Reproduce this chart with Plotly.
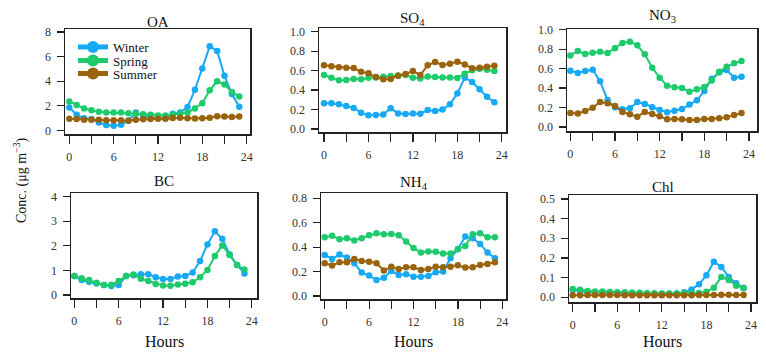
import plotly.graph_objects as go
from plotly.subplots import make_subplots

hours = list(range(24))

oa_winter = [1.86, 1.26, 0.98, 0.93, 0.63, 0.44, 0.38, 0.46, 0.79, 1.45, 1.15, 1.04,
             0.98, 0.98, 1.34, 1.45, 1.89, 3.30, 5.03, 6.83, 6.45, 4.43, 2.95, 1.91]
oa_spring = [2.35, 2.05, 1.78, 1.64, 1.50, 1.45, 1.45, 1.45, 1.39, 1.34, 1.31, 1.26,
             1.20, 1.20, 1.26, 1.34, 1.45, 1.78, 2.21, 3.25, 3.99, 3.72, 3.11, 2.76]
oa_summer = [0.95, 0.92, 0.85, 0.85, 0.85, 0.82, 0.82, 0.82, 0.78, 0.85, 0.90, 0.92,
             0.95, 0.95, 1.00, 1.02, 0.98, 0.97, 0.98, 1.02, 1.15, 1.12, 1.08, 1.12]

so4_winter = [0.264, 0.264, 0.253, 0.236, 0.216, 0.168, 0.140, 0.144, 0.150, 0.212, 0.160, 0.154,
              0.160, 0.157, 0.195, 0.185, 0.200, 0.253, 0.366, 0.527, 0.483, 0.408, 0.332, 0.274]
so4_spring = [0.555, 0.527, 0.500, 0.503, 0.514, 0.510, 0.527, 0.530, 0.537, 0.544, 0.551, 0.555,
              0.527, 0.520, 0.540, 0.534, 0.530, 0.530, 0.524, 0.568, 0.603, 0.620, 0.610, 0.596]
so4_summer = [0.654, 0.644, 0.634, 0.630, 0.627, 0.589, 0.572, 0.534, 0.510, 0.514, 0.548, 0.565,
              0.596, 0.555, 0.654, 0.688, 0.658, 0.671, 0.692, 0.664, 0.623, 0.630, 0.640, 0.650]

no3_winter = [0.579, 0.555, 0.575, 0.589, 0.469, 0.277, 0.202, 0.182, 0.192, 0.257, 0.236, 0.202,
              0.175, 0.151, 0.168, 0.185, 0.230, 0.274, 0.370, 0.497, 0.560, 0.586, 0.507, 0.517]
no3_spring = [0.736, 0.780, 0.750, 0.763, 0.774, 0.760, 0.808, 0.863, 0.877, 0.839, 0.747, 0.610,
              0.507, 0.425, 0.408, 0.400, 0.363, 0.387, 0.410, 0.479, 0.568, 0.620, 0.654, 0.678]
no3_summer = [0.144, 0.140, 0.164, 0.199, 0.257, 0.243, 0.216, 0.154, 0.130, 0.106, 0.154, 0.134,
              0.110, 0.079, 0.082, 0.079, 0.072, 0.072, 0.082, 0.082, 0.089, 0.099, 0.123, 0.144]

bc_winter = [0.77, 0.61, 0.54, 0.47, 0.41, 0.37, 0.41, 0.77, 0.81, 0.85, 0.85, 0.72,
             0.65, 0.65, 0.75, 0.77, 0.92, 1.38, 2.06, 2.59, 2.29, 1.65, 1.22, 0.88]
bc_spring = [0.77, 0.68, 0.61, 0.50, 0.41, 0.42, 0.57, 0.77, 0.84, 0.66, 0.57, 0.45,
             0.39, 0.38, 0.43, 0.46, 0.52, 0.72, 1.02, 1.59, 2.02, 1.63, 1.22, 1.04]

nh4_winter = [0.336, 0.303, 0.339, 0.314, 0.268, 0.191, 0.167, 0.131, 0.150, 0.205, 0.172, 0.178,
              0.158, 0.158, 0.164, 0.194, 0.200, 0.309, 0.385, 0.486, 0.473, 0.426, 0.355, 0.309]
nh4_spring = [0.481, 0.492, 0.464, 0.473, 0.454, 0.473, 0.497, 0.514, 0.505, 0.508, 0.497, 0.445,
              0.393, 0.355, 0.363, 0.361, 0.347, 0.347, 0.383, 0.410, 0.505, 0.514, 0.481, 0.481]
nh4_summer = [0.268, 0.249, 0.276, 0.276, 0.303, 0.287, 0.281, 0.268, 0.208, 0.240, 0.221, 0.235,
              0.235, 0.213, 0.221, 0.240, 0.235, 0.240, 0.251, 0.232, 0.235, 0.254, 0.262, 0.276]

chl_winter = [0.037, 0.030, 0.026, 0.025, 0.024, 0.023, 0.022, 0.021, 0.020, 0.020, 0.019, 0.018,
              0.018, 0.018, 0.019, 0.025, 0.040, 0.066, 0.112, 0.181, 0.154, 0.103, 0.071, 0.046]
chl_spring = [0.042, 0.038, 0.032, 0.030, 0.029, 0.027, 0.026, 0.025, 0.024, 0.023, 0.021, 0.020,
              0.019, 0.019, 0.019, 0.020, 0.020, 0.022, 0.028, 0.049, 0.103, 0.088, 0.059, 0.049]
chl_summer = [0.010, 0.010, 0.011, 0.011, 0.011, 0.011, 0.011, 0.010, 0.010, 0.010, 0.010, 0.010,
              0.010, 0.010, 0.010, 0.010, 0.010, 0.011, 0.011, 0.012, 0.013, 0.013, 0.011, 0.011]

season_names = ["Winter", "Spring", "Summer"]
season_colors = {"Winter": "#17A9F3", "Spring": "#1ECB6C", "Summer": "#9A640F"}
season_legend = {"Winter": "legend", "Spring": "legend2", "Summer": "legend3"}
legend_text_y = {"legend": 47, "legend2": 60.5, "legend3": 73.5}

x_tickvals = [0, 3, 6, 9, 12, 15, 18, 21, 24]
x_ticktext = ["0", "", "6", "", "12", "", "18", "", "24"]

W, H = 766, 356
FONT = "Liberation Serif"

panels = [
    dict(title="OA", frame=(65, 250, 29, 134), xr=[-0.58, 24.45], yr=[-0.3, 8.24],
         yt=[0, 2, 4, 6, 8], fmt="{:d}", title_y=22,
         series={"Winter": oa_winter, "Spring": oa_spring, "Summer": oa_summer}),
    dict(title="SO<sub>4</sub>", frame=(319, 506, 28, 132), xr=[-0.68, 24.57], yr=[-0.031, 1.038],
         yt=[0, 0.2, 0.4, 0.6, 0.8, 1.0], fmt="{:.1f}", title_y=19,
         series={"Winter": so4_winter, "Spring": so4_spring, "Summer": so4_summer}),
    dict(title="NO<sub>3</sub>", frame=(567, 757, 29, 131), xr=[-0.45, 25.08], yr=[-0.041, 1.007],
         yt=[0, 0.2, 0.4, 0.6, 0.8, 1.0], fmt="{:.1f}", title_y=16,
         series={"Winter": no3_winter, "Spring": no3_spring, "Summer": no3_summer}),
    dict(title="BC", frame=(71, 257, 193, 298), xr=[-0.45, 24.7], yr=[-0.12, 4.15],
         yt=[0, 1, 2, 3, 4], fmt="{:d}", title_y=181,
         series={"Winter": bc_winter, "Spring": bc_spring}),
    dict(title="NH<sub>4</sub>", frame=(321, 506, 193, 299), xr=[-0.5, 24.5], yr=[-0.025, 0.843],
         yt=[0, 0.2, 0.4, 0.6, 0.8], fmt="{:.1f}", title_y=183,
         series={"Winter": nh4_winter, "Spring": nh4_spring, "Summer": nh4_summer}),
    dict(title="Chl", frame=(569, 756, 195, 302), xr=[-0.5, 24.67], yr=[-0.024, 0.52],
         yt=[0, 0.1, 0.2, 0.3, 0.4, 0.5], fmt="{:.1f}", title_y=187,
         series={"Winter": chl_winter, "Spring": chl_spring, "Summer": chl_summer}),
]

fig = make_subplots(rows=2, cols=3)

annotations = []
for i, p in enumerate(panels):
    row, col = i // 3 + 1, i % 3 + 1
    for s in season_names:
        if s not in p["series"]:
            continue
        fig.add_trace(go.Scatter(
            x=hours, y=p["series"][s], mode="lines+markers", name=s,
            line=dict(color=season_colors[s], width=2),
            marker=dict(color=season_colors[s], size=6.5),
            showlegend=(i == 0), legend=season_legend[s],
            hoverinfo="skip",
        ), row=row, col=col)
    x0, x1, y0, y1 = p["frame"]
    sfx = "" if i == 0 else str(i + 1)
    fig.layout["xaxis" + sfx].update(
        domain=[x0 / W, x1 / W], range=p["xr"], tickvals=x_tickvals, ticktext=x_ticktext,
        ticks="outside", ticklen=8, tickwidth=1.2, tickcolor="#222",
        showline=True, linecolor="#222", linewidth=1.5, mirror=True,
        showgrid=False, zeroline=False, ticklabelstandoff=3, automargin=False,
        tickfont=dict(family=FONT, size=12, color="#333"),
    )
    fig.layout["yaxis" + sfx].update(
        domain=[1 - y1 / H, 1 - y0 / H], range=p["yr"], tickvals=p["yt"],
        ticktext=[p["fmt"].format(v) for v in p["yt"]],
        ticks="outside", ticklen=7, tickwidth=1.2, tickcolor="#222",
        showline=True, linecolor="#222", linewidth=1.5, mirror=True,
        showgrid=False, zeroline=False, ticklabelstandoff=3, automargin=False,
        tickfont=dict(family=FONT, size=12, color="#333"),
    )
    annotations.append(dict(
        text=p["title"], xref="paper", yref="paper",
        x=(x0 + x1) / 2 / W, y=1 - p["title_y"] / H, xanchor="center", yanchor="middle",
        showarrow=False, font=dict(family=FONT, size=15, color="#111"),
    ))
    if row == 2:
        annotations.append(dict(
            text="Hours", xref="paper", yref="paper",
            x=(x0 + x1) / 2 / W, y=1 - 341 / H, xanchor="center", yanchor="middle",
            showarrow=False, font=dict(family=FONT, size=16, color="#111"),
        ))

annotations.append(dict(
    text="Conc. (μg m<sup>−3</sup>)", xref="paper", yref="paper",
    x=20 / W, y=1 - 180 / H, xanchor="center", yanchor="middle", textangle=-90,
    showarrow=False, font=dict(family=FONT, size=14, color="#111"),
))

legend_style = dict(xanchor="left", yanchor="middle", bgcolor="rgba(0,0,0,0)",
                    font=dict(family=FONT, size=13, color="#111"),
                    itemwidth=30, itemsizing="constant", borderwidth=0)
legends = {}
for key, ty in legend_text_y.items():
    legends[key] = dict(x=73 / W, y=1 - ty / H, **legend_style)

fig.update_layout(
    template="none",
    width=W, height=H, margin=dict(l=0, r=0, t=0, b=0, pad=0, autoexpand=False),
    paper_bgcolor="white", plot_bgcolor="white",
    annotations=annotations,
    showlegend=True,
    font=dict(family=FONT),
    **legends,
)

fig.write_html(
    "out.html",
    config={"displayModeBar": False, "staticPlot": True},
    post_script="document.body.style.margin='0';document.body.style.padding='0';"
                "document.body.style.overflow='hidden';"
                "document.documentElement.style.overflow='hidden';",
)
